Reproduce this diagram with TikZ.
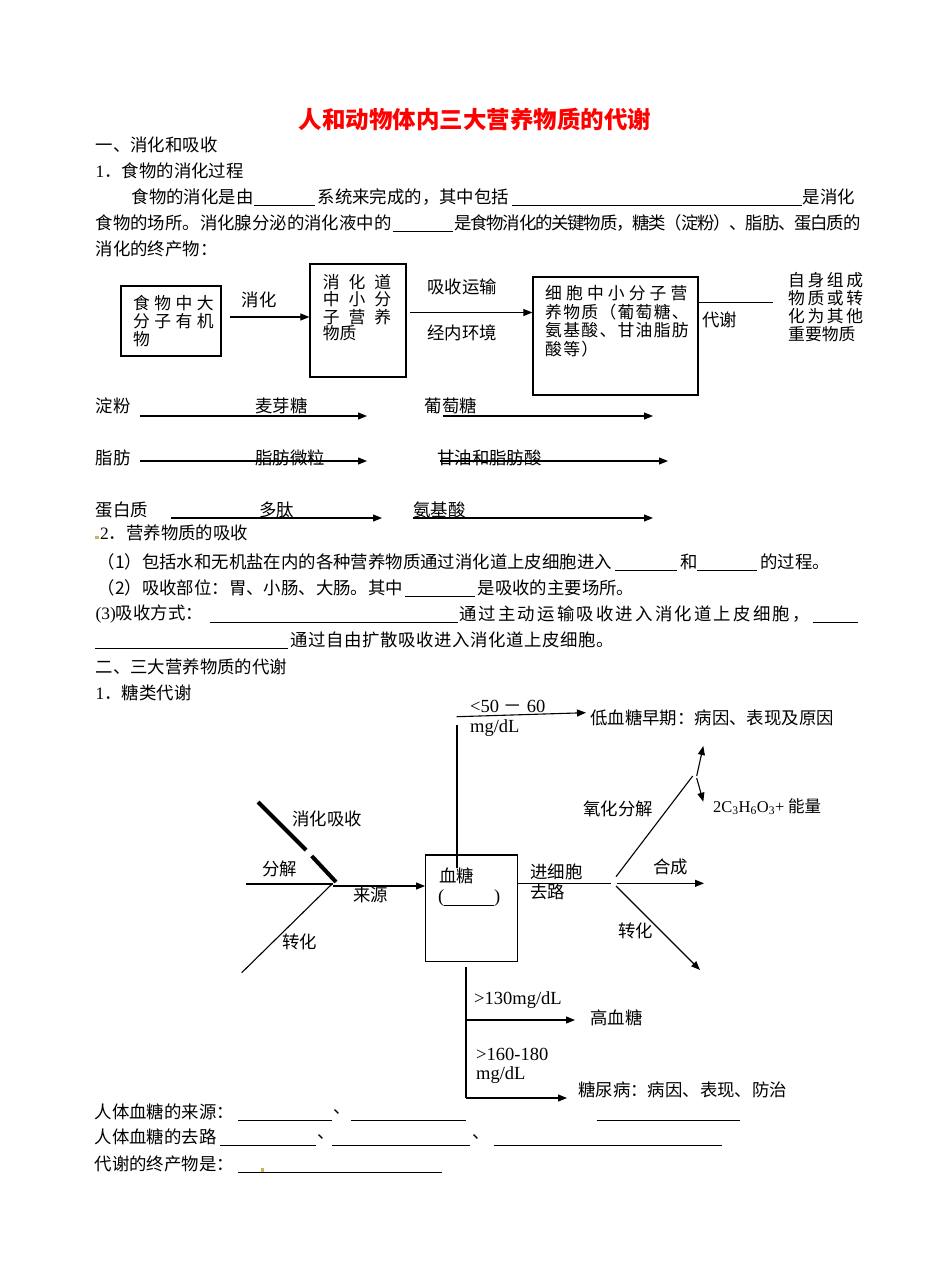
\documentclass[tikz,border=0pt]{standalone}
\usepackage{fontspec}
\setmainfont{Noto Sans CJK SC}
\newfontfamily\tnr{Liberation Serif}
\usetikzlibrary{arrows.meta}
\newcommand\spreadtxt[2]{\def\spreadgap{#1}\spreadloop#2\relax}
\newcommand\spreadloop[1]{\ifx\relax#1\else#1\hspace{\spreadgap}\expandafter\spreadloop\fi}
\definecolor{dotc}{RGB}{200,180,90}
\tikzset{
  txt/.style={anchor=west, inner sep=0pt, font=\fontsize{17.4}{17.4}\selectfont},
  bxt/.style={anchor=west, inner sep=0pt, font=\fontsize{16.8}{16.8}\selectfont},
  lat/.style={anchor=west, inner sep=0pt, font=\fontsize{18.5}{18.5}\selectfont\tnr},
  blank/.style={line width=0.8pt},
  ln/.style={line width=1.1pt},
  thick line/.style={line width=4pt},
  arr/.style={line width=1.1pt, -{Triangle[length=9pt,width=7pt]}},
  box/.style={draw, line width=1.2pt, inner sep=0pt}
}
\begin{document}
\begin{tikzpicture}[x=1pt,y=-1pt]
\useasboundingbox (0,0) rectangle (950,1283);
\fill[white] (0,0) rectangle (950,1283);

% title
\node[anchor=center, inner sep=0pt, font=\fontsize{23.5}{23.5}\selectfont\bfseries, text=red] (title) at (475,119) {人和动物体内三大营养物质的代谢};

% section 1
\node[txt] (h1) at (95.5,145) {一、消化和吸收};
\node[txt] (h11) at (95.5,171) {{\tnr 1}．食物的消化过程};
\node[txt] (p1a) at (131.5,197) {食物的消化是由};
\draw[blank] (254,205) -- (315,205);
\node[txt] (p1b) at (317.5,197) {系统来完成的，其中包括};
\draw[blank] (512,205) -- (802,205);
\node[txt] (p1c) at (802.5,197) {是消化};
\node[txt] (p2a) at (95.5,223) {食物的场所。消化腺分泌的消化液中的};
\draw[blank] (392.5,231) -- (452.5,231);
\node[txt] (p2b) at (454,223) {\spreadtxt{-1.2pt}{是食物消化的关键物质，糖类（淀粉）、脂肪、蛋白质的}};
\node[txt] (p3) at (95.5,249) {消化的终产物：};

% top flow diagram
\node[box, minimum width=100pt, minimum height=70pt] (b1) at (171,321) {};
\node[bxt] (b1r1) at (133,302.7) {\spreadtxt{4.4pt}{食物中大}};
\node[bxt] (b1r2) at (133,321.5) {\spreadtxt{4.4pt}{分子有机}};
\node[bxt] (b1r3) at (133,339.5) {物};
\node[txt] (lxh) at (241.7,300) {消化};
\node[box, minimum width=96pt, minimum height=113pt] (b2) at (358,320.5) {};
\node[bxt] (b2r1) at (322.7,281.7) {\spreadtxt{9pt}{消化道}};
\node[bxt] (b2r2) at (322.7,299.3) {\spreadtxt{9pt}{中小分}};
\node[bxt] (b2r3) at (322.7,316.7) {\spreadtxt{9pt}{子营养}};
\node[bxt] (b2r4) at (322.7,333.3) {物质};
\coordinate (a1s) at (230,317);
\draw[arr] (a1s) -- (a1s -| b2.west);
\node[txt] (lxs) at (427,287) {吸收运输};
\node[txt] (ljn) at (427,333) {经内环境};
\node[box, minimum width=165pt, minimum height=118pt] (b3) at (615.5,336) {};
\coordinate (a2s) at (410,312.5);
\draw[arr] (a2s) -- (a2s -| b3.west);
\node[bxt] (b3r1) at (545,293.5) {\spreadtxt{4.1pt}{细胞中小分子营}};
\node[bxt] (b3r2) at (545,312) {\spreadtxt{1.3pt}{养物质（葡萄糖、}};
\node[bxt] (b3r3) at (545,330.5) {\spreadtxt{1.3pt}{氨基酸、甘油脂肪}};
\node[bxt] (b3r4) at (545,349) {\spreadtxt{1.3pt}{酸等）}};
\coordinate (l3e) at (773,302.7);
\draw[ln] (b3.east |- l3e) -- (l3e);
\node[txt] (ldx) at (702,320) {代谢};
\node[bxt] (rt1) at (788,280) {\spreadtxt{2.6pt}{自身组成}};
\node[bxt] (rt2) at (788,298) {\spreadtxt{2.6pt}{物质或转}};
\node[bxt] (rt3) at (788,316) {\spreadtxt{2.6pt}{化为其他}};
\node[bxt] (rt4) at (788,334) {重要物质};

% digestion rows
\node[txt] (r1a) at (95.5,406) {淀粉};
\node[txt] (r1b) at (255,406) {麦芽糖};
\node[txt] (r1c) at (424.5,406) {葡萄糖};
\coordinate (r1s1) at (140,416); \coordinate (r1e1) at (367,416);
\coordinate (r1s2) at (443,416); \coordinate (r1e2) at (653,416);
\draw[arr] (r1s1) -- (r1e1);
\draw[arr] (r1s2) -- (r1e2);
\node[txt] (r2a) at (95.5,458) {脂肪};
\node[txt] (r2b) at (255,458) {脂肪微粒};
\node[txt] (r2c) at (437,458) {甘油和脂肪酸};
\coordinate (r2s1) at (140,461); \coordinate (r2e1) at (367,461);
\coordinate (r2s2) at (440,461); \coordinate (r2e2) at (668,461);
\draw[arr] (r2s1) -- (r2e1);
\draw[arr] (r2s2) -- (r2e2);
\node[txt] (r3a) at (95.5,510) {蛋白质};
\node[txt] (r3b) at (259,510) {多肽};
\node[txt] (r3c) at (413,510) {氨基酸};
\coordinate (r3s1) at (171,518); \coordinate (r3e1) at (382,518);
\coordinate (r3s2) at (413,518); \coordinate (r3e2) at (653,518);
\draw[arr] (r3s1) -- (r3e1);
\draw[arr] (r3s2) -- (r3e2);

% section 1.2
\fill[dotc] (95,535.5) rectangle (98.5,539);
\node[txt] (h12) at (100,533) {{\tnr 2}．营养物质的吸收};
\node[txt] (q1a) at (97.5,562) {（1）包括水和无机盐在内的各种营养物质通过消化道上皮细胞进入};
\draw[blank] (615,570) -- (677,570);
\node[txt] (q1b) at (680,562) {和};
\draw[blank] (697,570) -- (757,570);
\node[txt] (q1c) at (760,562) {的过程。};
\node[txt] (q2a) at (97.5,588) {（2）吸收部位：胃、小肠、大肠。其中};
\draw[blank] (405,596) -- (475,596);
\node[txt] (q2b) at (477.5,588) {是吸收的主要场所。};
\node[txt] (q3a) at (95.5,614) {{\tnr(3)}吸收方式：};
\draw[blank] (210,622) -- (457.5,622);
\node[txt] (q3b) at (459,614) {\spreadtxt{2.2pt}{通过主动运输吸收进入消化道上皮细胞，}};
\draw[blank] (812.5,622) -- (857.5,622);
\draw[blank] (95,648) -- (287.5,648);
\node[txt] (q3c) at (290,640) {\spreadtxt{0.6pt}{通过自由扩散吸收进入消化道上皮细胞。}};
\node[txt] (h2) at (95.5,667) {二、三大营养物质的代谢};
\node[txt] (h21) at (95.5,693) {{\tnr 1}．糖类代谢};

% sugar metabolism diagram
\node[box, minimum width=91.6pt, minimum height=106.7pt] (b4) at (471.5,908.4) {};
\node[txt] (xt) at (439,876) {血糖};
\node[lat] (xp1) at (438,898) {(};
\node[lat] (xp2) at (494,898) {)};
\draw[blank] (444,905) -- (494,905);

\coordinate (vt) at (457,725); \coordinate (vb) at (457,868);
\draw[ln] (vt) -- (vb);
\coordinate (lows) at (456.7,716.7); \coordinate (lowe) at (586,712.7);
\draw[arr] (lows) -- (lowe);
\node[lat] (lo1) at (470,706.7) {<50 {\normalfont －} 60};
\node[lat] (lo2) at (470,728) {mg/dL};
\node[txt] (lo3) at (590,718) {低血糖早期：病因、表现及原因};

% sources
\coordinate (k1a) at (258,802); \coordinate (k1b) at (306,850);
\coordinate (k2a) at (311.7,856); \coordinate (k2b) at (336,882);
\draw[thick line] (k1a) -- (k1b);
\draw[thick line] (k2a) -- (k2b);
\node[txt] (sxh) at (292,819) {消化吸收};
\coordinate (hs) at (246,884); \coordinate (hc) at (333,884);
\draw[ln] (hs) -- (hc);
\node[txt] (sfj) at (262,869) {分解};
\coordinate (src) at (333,886);
\draw[arr] (src) -- (src -| b4.west);
\node[txt] (sly) at (353,895) {来源};
\coordinate (ds) at (241.7,972.7); \coordinate (dc) at (332,884);
\draw[ln] (ds) -- (dc);
\node[txt] (szh) at (282,942) {转化};

% fates
\coordinate (fc) at (611,883.3);
\draw[ln] (b4.east |- fc) -- (fc);
\node[txt] (fjx) at (530,871.7) {进细胞};
\node[txt] (fql) at (530,891.7) {去路};
\coordinate (os) at (616,876.7); \coordinate (oe) at (692.7,776);
\draw[ln] (os) -- (oe);
\coordinate (u1s) at (696.7,776); \coordinate (u1e) at (703.3,746);
\coordinate (u2s) at (696.7,778); \coordinate (u2e) at (703.3,801.7);
\draw[arr] (u1s) -- (u1e);
\draw[arr] (u2s) -- (u2e);
\node[txt] (fyh) at (583,809) {氧化分解};
\node[anchor=west, inner sep=0pt, font=\fontsize{16.5}{16.5}\selectfont] (flac) at (713,806.7) {{\tnr 2C\textsubscript{3}H\textsubscript{6}O\textsubscript{3}+} 能量};
\coordinate (hcs) at (616.7,883.3); \coordinate (hce) at (704,883.3);
\draw[arr] (hcs) -- (hce);
\node[txt] (fhc) at (653,866.7) {合成};
\coordinate (zs) at (616,886); \coordinate (ze) at (700,970);
\draw[arr] (zs) -- (ze);
\node[txt] (fzh) at (618,931) {转化};

% high sugar
\coordinate (bvt) at (466,966.7); \coordinate (bvb) at (466,1098);
\draw[ln] (bvt) -- (bvb);
\coordinate (hi1) at (466,1020); \coordinate (hi1e) at (575,1020);
\draw[arr] (hi1) -- (hi1e);
\node[lat] (hl1) at (474,1000) {>130mg/dL};
\node[txt] (hg) at (590,1018) {高血糖};
\coordinate (hi2e) at (567,1098);
\draw[arr] (bvb) -- (hi2e);
\node[lat] (hl2) at (476,1054) {>160-180};
\node[lat] (hl3) at (476,1075) {mg/dL};
\node[txt] (tnb) at (578,1090) {糖尿病：病因、表现、防治};

% questions
\node[txt] (e1) at (94.5,1112) {人体血糖的来源：};
\draw[blank] (238,1120) -- (332,1120);
\node[txt] (e1d) at (333,1112) {、};
\draw[blank] (351,1120) -- (466,1120);
\draw[blank] (596.7,1120) -- (740,1120);
\node[txt] (e2) at (94.5,1137) {人体血糖的去路};
\draw[blank] (220,1145) -- (316,1145);
\node[txt] (e2d) at (317,1137) {、};
\draw[blank] (332,1145) -- (470,1145);
\node[txt] (e2e) at (472,1137) {、};
\draw[blank] (493.6,1145) -- (722,1145);
\node[txt] (e3) at (94.5,1164) {代谢的终产物是：};
\draw[blank] (238,1172) -- (442,1172);
\fill[dotc] (261,1168) rectangle (264,1172);
\end{tikzpicture}
\end{document}
